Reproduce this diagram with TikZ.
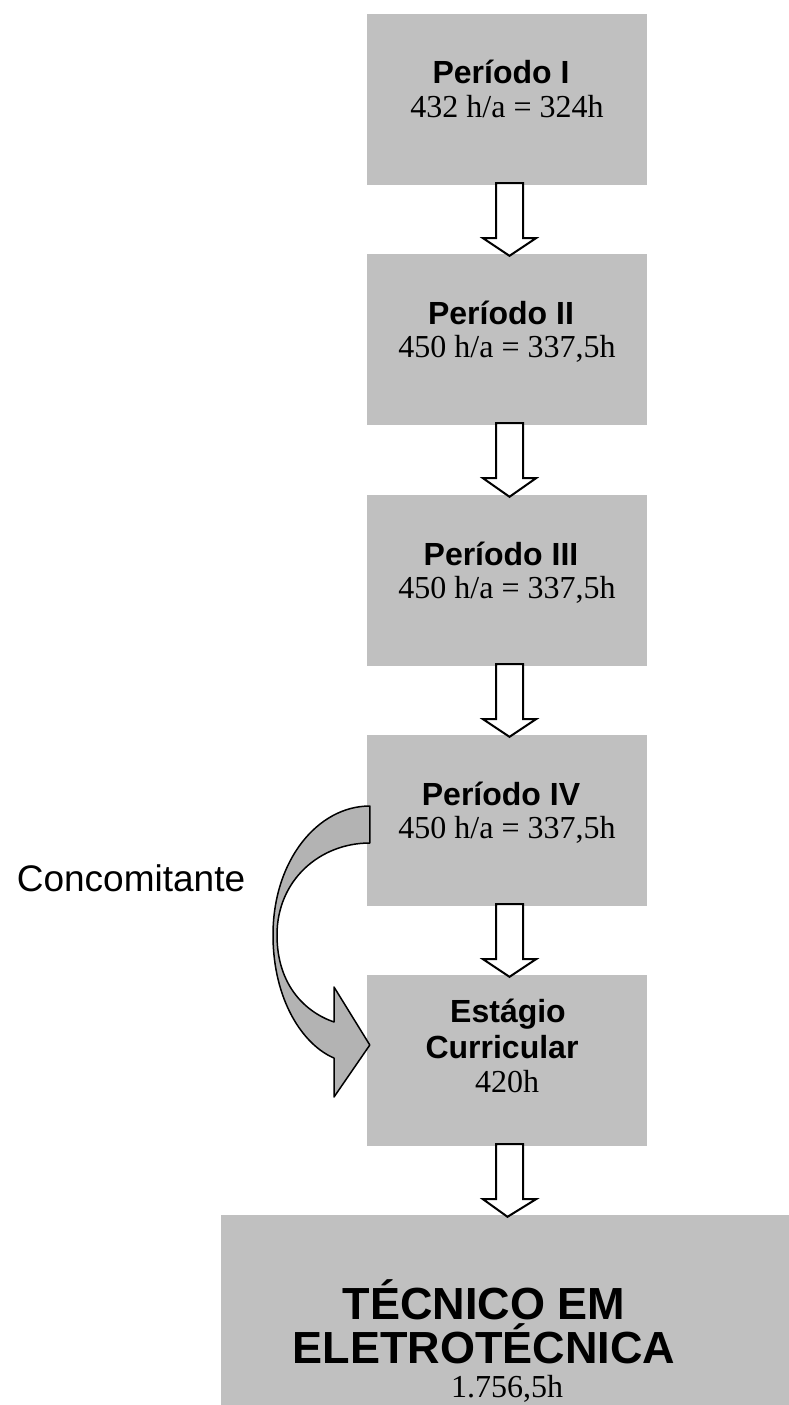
\documentclass[tikz,border=0pt]{standalone}
\usepackage{fontspec}
\setmainfont{Liberation Serif}
\newfontfamily\arialfont{Liberation Sans}
\usetikzlibrary{calc}
\definecolor{boxgray}{HTML}{C0C0C0}
\definecolor{arrowgray}{HTML}{B3B3B3}
\tikzset{
  box/.style={fill=boxgray, draw=none, inner sep=0pt},
  boldtxt/.style={anchor=base, inner sep=0pt, font=\arialfont\bfseries\fontsize{32}{36}\selectfont},
  romtxt/.style={anchor=base, inner sep=0pt, font=\fontsize{32}{36}\selectfont},
  bigtxt/.style={anchor=base, inner sep=0pt, font=\arialfont\bfseries\fontsize{45}{50}\selectfont},
  sidetxt/.style={anchor=base, inner sep=0pt, font=\arialfont\fontsize{37}{42}\selectfont},
  blockarrow/.style={draw=black, fill=white, line width=2pt, miter limit=10},
  curvearrow/.style={draw=black, fill=arrowgray, line width=1.5pt, line join=round}
}
\newcommand\blkarrow[2]{%
  \draw[blockarrow] ($(#1.south)+(-11,-2)$) -- ($(#1.south)+(16,-2)$)
    -- ($(#1.south)+(16,53)$) -- ($(#1.south)+(29,53)$)
    -- ($(#2.north)+(2.5,2)$)
    -- ($(#1.south)+(-24,53)$) -- ($(#1.south)+(-11,53)$) -- cycle;}
\begin{document}
\begin{tikzpicture}[x=1pt,y=-1pt]
\useasboundingbox (0,0) rectangle (789,1405);
% boxes
\node[box, minimum width=280pt, minimum height=171pt] (p1) at (507,99.5) {};
\node[box, minimum width=280pt, minimum height=171pt] (p2) at (507,339.5) {};
\node[box, minimum width=280pt, minimum height=171pt] (p3) at (507,580.5) {};
\node[box, minimum width=280pt, minimum height=171pt] (p4) at (507,820.5) {};
\node[box, minimum width=280pt, minimum height=171pt] (est) at (507,1060.5) {};
\node[box, minimum width=568pt, minimum height=190pt] (tec) at (505,1310) {};
% texts
\node[boldtxt] (t1a) at (501,84) {Período I};
\node[romtxt] (t1b) at (507,117) {432 h/a = 324h};
\node[boldtxt] (t2a) at (501,324) {Período II};
\node[romtxt] (t2b) at (507,357) {450 h/a = 337,5h};
\node[boldtxt] (t3a) at (501,565) {Período III};
\node[romtxt] (t3b) at (507,598) {450 h/a = 337,5h};
\node[boldtxt] (t4a) at (501,805) {Período IV};
\node[romtxt] (t4b) at (507,838) {450 h/a = 337,5h};
\node[boldtxt] (t5a) at (508,1022) {Estágio};
\node[boldtxt] (t5b) at (502,1058) {Curricular};
\node[romtxt] (t5c) at (507,1092) {420h};
\node[bigtxt] (t6a) at (484,1319) {TÉCNICO EM};
\node[bigtxt] (t6b) at (484,1363) {ELETROTÉCNICA};
\node[romtxt] (t6c) at (507,1397) {1.756,5h};
\node[sidetxt] (conc) at (131,891) {Concomitante};
% straight block arrows
\blkarrow{p1}{p2}
\blkarrow{p2}{p3}
\blkarrow{p3}{p4}
\blkarrow{p4}{est}
\blkarrow{est}{tec}
% curved arrow from Periodo IV to Estagio
\coordinate (ca) at ($(p4.west)+(3,-14.5)$);
\coordinate (cb) at ($(p4.west)+(3,22.5)$);
\coordinate (ctip) at ($(est.west)+(3,-15.5)$);
\draw[curvearrow] (ca) .. controls (318,806) and (273,860) .. (273,935)
  .. controls (273,1000) and (303,1045) .. (334,1058)
  -- (334,1097) -- (ctip) -- (334,987) -- (334,1022)
  .. controls (305,1012) and (277,985) .. (277,935)
  .. controls (277,880) and (320,843) .. (cb) -- cycle;
\end{tikzpicture}
\end{document}
